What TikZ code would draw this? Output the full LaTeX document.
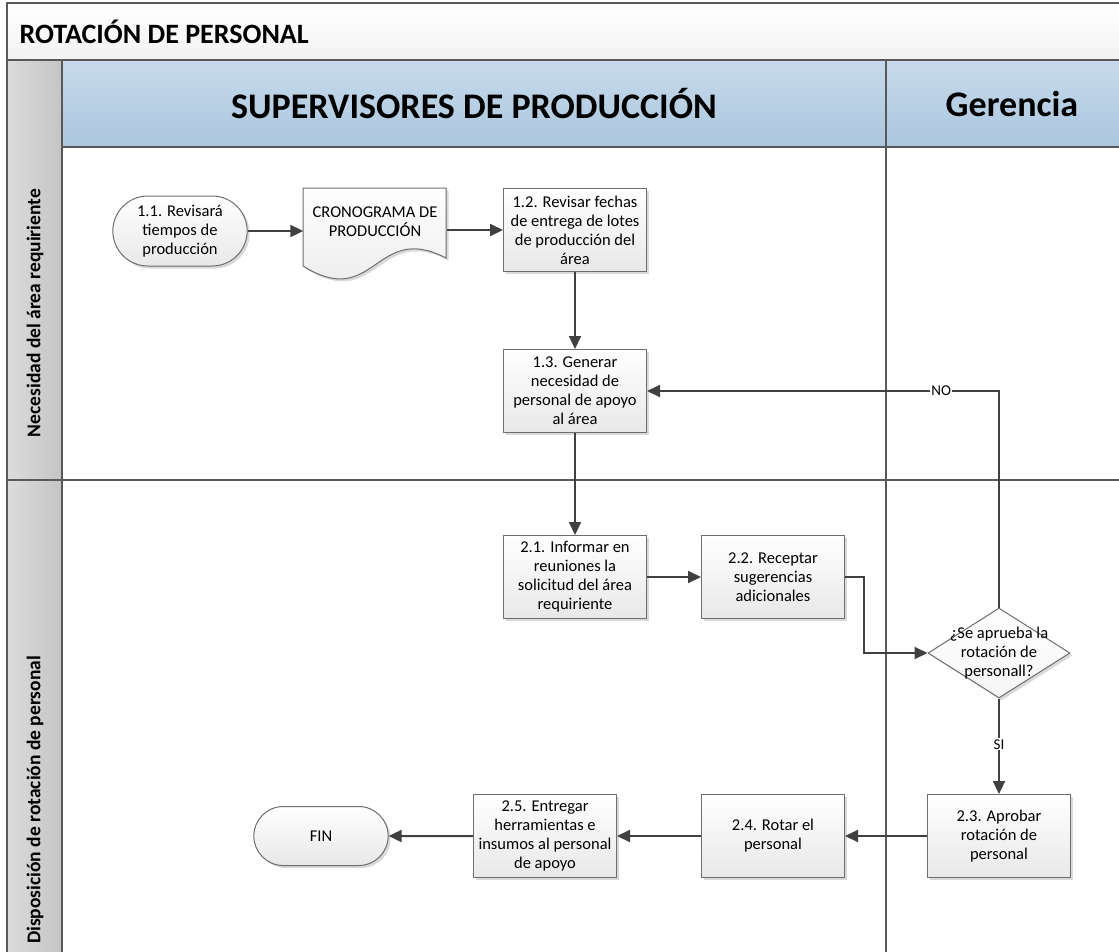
\documentclass[tikz,border=0pt]{standalone}
\usepackage{fontspec}
\setmainfont{Carlito}
\usetikzlibrary{shapes.geometric,shapes.misc,arrows.meta,shadows}

\definecolor{lineGray}{HTML}{404040}
\definecolor{frameGray}{HTML}{595959}
\definecolor{boxLine}{HTML}{6E6E6E}
\definecolor{headTop}{HTML}{C7DAEB}
\definecolor{headBot}{HTML}{ABC6DE}
\definecolor{laneLeft}{HTML}{DCDCDC}
\definecolor{laneRight}{HTML}{C4C4C4}

\begin{document}
\begin{tikzpicture}[
    x=1pt, y=-1pt,
    font=\fontsize{16.5}{19}\selectfont,
    shade box/.style={draw=boxLine, line width=1pt, top color=white, bottom color=gray!18, drop shadow={opacity=0.3, shadow xshift=2.5pt, shadow yshift=-2.5pt}},
    task/.style={rectangle, shade box, minimum width=143pt, minimum height=83pt, align=center, inner sep=1pt},
    term/.style={rounded rectangle, shade box, minimum width=141pt, minimum height=59pt, align=center},
    decision/.style={diamond, shade box, top color=white, bottom color=gray!8, minimum width=142pt, minimum height=90pt, inner sep=0pt},
    arrow/.style={-{Triangle[length=13pt,width=12pt]}, line width=2pt, draw=lineGray},
    lane/.style={draw=frameGray, line width=1.5pt},
    tag/.style={fill=white, inner sep=1pt, font=\fontsize{15}{17}\selectfont}
]
\useasboundingbox (0,0) rectangle (1119,951);

% Pool frame, title band and lane headers
\shade[top color=white, bottom color=gray!10] (7,3) rectangle (1130,60);
\shade[top color=headTop, bottom color=headBot] (62,60) rectangle (1130,147);
\shade[left color=laneLeft, right color=laneRight] (7,60) rectangle (62,960);
\draw[lane] (7,3) rectangle (1130,960);
\draw[lane] (7,60) -- (1130,60);
\draw[lane] (62,147) -- (1130,147);
\draw[lane] (62,60) -- (62,960);
\draw[lane] (886,60) -- (886,960);
\draw[lane] (7,480) -- (1130,480);

\node[anchor=west, font=\bfseries\fontsize{28}{32}\selectfont] (titulo) at (16,32) {ROTACIÓN DE PERSONAL};
\node[font=\bfseries\fontsize{36}{42}\selectfont] (supervisores) at (474,104) {SUPERVISORES DE PRODUCCIÓN};
\node[font=\bfseries\fontsize{36}{42}\selectfont] (gerencia) at (1012,104) {Gerencia};
\node[rotate=90, font=\bfseries\fontsize{19.5}{23}\selectfont] (necesidad) at (35,313) {Necesidad del área requiriente};
\node[rotate=90, font=\bfseries\fontsize{19.5}{23}\selectfont] (disposicion) at (35,800) {Disposición de rotación de personal};

% Lane 1
\node[term, minimum height=70pt] (n11) at (180,231) {1.1. Revisará\\tiempos de\\producción};
\path[shade box] (303,188) -- (446,188) -- (446,258) .. controls (375,221) and (375,311) .. (303,266) -- cycle;
\node[align=center, minimum width=143pt] (crono) at (375,222) {CRONOGRAMA DE\\PRODUCCIÓN};
\node[task] (n12) at (575,230) {1.2. Revisar fechas\\de entrega de lotes\\de producción del\\área};
\node[task] (n13) at (575,391) {1.3. Generar\\necesidad de\\personal de apoyo\\al área};

% Lane 2
\node[task] (n21) at (575,577) {2.1. Informar en\\reuniones la\\solicitud del área\\requiriente};
\node[task] (n22) at (773,577) {2.2. Receptar\\sugerencias\\adicionales};
\node[decision, label={[align=center]center:¿Se aprueba la\\rotación de\\personall?}] (dec) at (999,653) {};
\node[task] (n23) at (999,836) {2.3. Aprobar\\rotación de\\personal};
\node[task] (n24) at (773,836) {2.4. Rotar el\\personal};
\node[task] (n25) at (545,836) {2.5. Entregar\\herramientas e\\insumos al personal\\de apoyo};
\node[term] (fin) at (321,836) {FIN};

% Flow
\draw[arrow] (n11.east) -- (n11.east -| crono.west);
\draw[arrow] (crono.east |- n12.west) -- (n12.west);
\draw[arrow] (n12) -- (n13);
\draw[arrow] (n13) -- (n21);
\draw[arrow] (n21) -- (n22);
\draw[arrow] (n22.east) -- ++(19,0) |- (dec.west);
\draw[arrow] (dec.north) |- node[tag, pos=0.582] {NO} (n13.east);
\draw[arrow] (dec.south) -- node[tag, pos=0.48] {SI} (n23.north);
\draw[arrow] (n23) -- (n24);
\draw[arrow] (n24) -- (n25);
\draw[arrow] (n25) -- (fin);

\end{tikzpicture}
\end{document}
